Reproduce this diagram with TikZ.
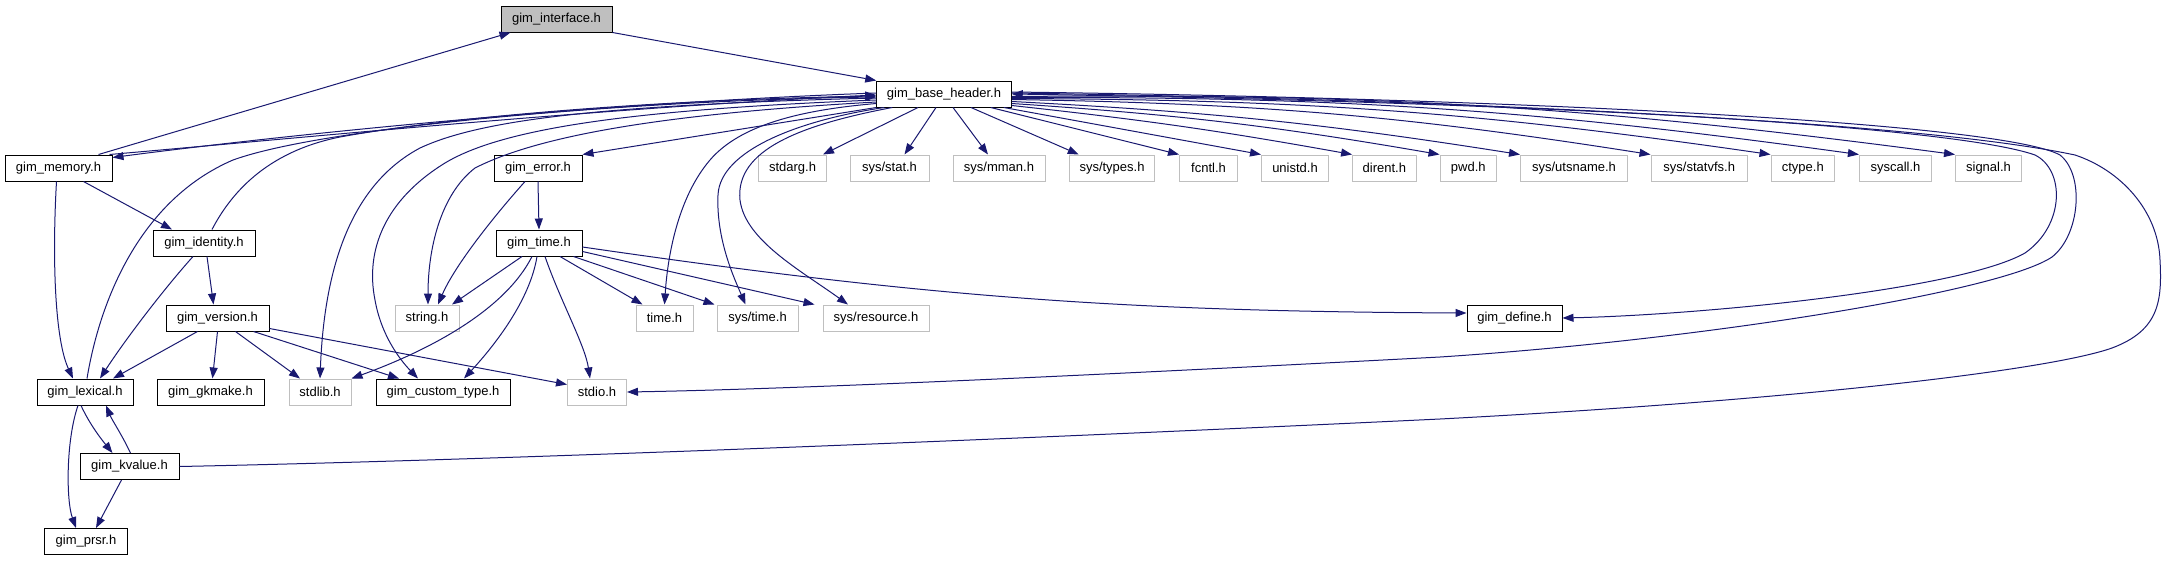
\documentclass[tikz,border=0pt]{standalone}
\usepackage{fontspec}
\setmainfont{Liberation Sans}
\usepackage{tikz}
\usetikzlibrary{arrows.meta}
\definecolor{edgeblue}{RGB}{25, 25, 112}
\definecolor{sysgray}{RGB}{191, 191, 191}
\definecolor{rootfill}{RGB}{191, 191, 191}

\begin{document}
\begin{tikzpicture}[x=1pt, y=1pt, every node/.style={font=\fontsize{13}{15}\selectfont}]
    \tikzstyle{hdr} = [draw=black, fill=white, rectangle, minimum height=26pt, inner sep=0pt, line width=1pt]
    \tikzstyle{sys} = [hdr, draw=sysgray]
    \tikzstyle{root} = [hdr, fill=rootfill]
    \tikzstyle{inc} = [draw=edgeblue, line width=1pt, -{Triangle[length=11pt, width=8pt]}]

    \useasboundingbox (0,0) rectangle (2165,-560);

    % Nodes
    \node (iface) [root, minimum width=111pt] at (556.5,-19) {gim\_interface.h};
    \node (bh) [hdr, minimum width=134.5pt] at (944,-94) {gim\_base\_header.h};
    \node (mem) [hdr, minimum width=107pt] at (58.5,-168) {gim\_memory.h};
    \node (err) [hdr, minimum width=88pt] at (538,-168) {gim\_error.h};
    \node (idn) [hdr, minimum width=102pt] at (204,-243) {gim\_identity.h};
    \node (gtime) [hdr, minimum width=86pt] at (539,-243) {gim\_time.h};
    \node (ver) [hdr, minimum width=103pt] at (217.5,-318) {gim\_version.h};
    \node (strh) [sys, minimum width=64pt] at (427,-318) {string.h};
    \node (timeh) [sys, minimum width=57pt] at (664.5,-318) {time.h};
    \node (systime) [sys, minimum width=81pt] at (757.5,-318) {sys/time.h};
    \node (sysres) [sys, minimum width=106pt] at (876,-318) {sys/resource.h};
    \node (def) [hdr, minimum width=95pt] at (1514.5,-318) {gim\_define.h};
    \node (lex) [hdr, minimum width=96pt] at (85,-392) {gim\_lexical.h};
    \node (gk) [hdr, minimum width=107pt] at (210.5,-392) {gim\_gkmake.h};
    \node (stdlibh) [sys, minimum width=62pt] at (320,-392) {stdlib.h};
    \node (ctt) [hdr, minimum width=134pt] at (443,-392) {gim\_custom\_type.h};
    \node (stdioh) [sys, minimum width=59pt] at (597,-392) {stdio.h};
    \node (kv) [hdr, minimum width=99pt] at (129.5,-466.5) {gim\_kvalue.h};
    \node (prsr) [hdr, minimum width=82.5pt] at (86,-541.5) {gim\_prsr.h};
    \node (stdarg) [sys, minimum width=68pt] at (792.5,-168) {stdarg.h};
    \node (sysstat) [sys, minimum width=79pt] at (889.5,-168) {sys/stat.h};
    \node (sysmman) [sys, minimum width=92pt] at (999,-168) {sys/mman.h};
    \node (systypes) [sys, minimum width=85.5pt] at (1112,-168) {sys/types.h};
    \node (fcntl) [sys, minimum width=58pt] at (1208.5,-168) {fcntl.h};
    \node (unistd) [sys, minimum width=67pt] at (1295,-168) {unistd.h};
    \node (dirent) [sys, minimum width=63.4pt] at (1384.3,-168) {dirent.h};
    \node (pwd) [sys, minimum width=56.6pt] at (1468.3,-168) {pwd.h};
    \node (utsname) [sys, minimum width=107pt] at (1574,-168) {sys/utsname.h};
    \node (statvfs) [sys, minimum width=96.4pt] at (1699.2,-168) {sys/statvfs.h};
    \node (ctype) [sys, minimum width=63.6pt] at (1802.8,-168) {ctype.h};
    \node (syscall) [sys, minimum width=72.2pt] at (1895.5,-168) {syscall.h};
    \node (signal) [sys, minimum width=66pt] at (1988.5,-168) {signal.h};

    % Arrows
    \draw [inc] (iface.south east) -- (bh.north west);

    \draw [inc] ([xshift=40]mem.north) -- ([xshift=-46]iface.south);
    \draw [inc] ([xshift=-3]mem.north east) .. controls (300,-138) and (600,-108) .. ([yshift=-1]bh.west);
    \draw [inc] ([xshift=25]mem.south) -- ([xshift=-32]idn.north);
    \draw [inc] ([xshift=-2]mem.south) .. controls (52,-260) and (55,-340) .. ([xshift=-12]lex.north);

    \draw [inc] ([yshift=1]bh.west) .. controls (600,-103) and (300,-133) .. ([yshift=-3]mem.north east);

    \draw [inc] ([xshift=8]idn.north) .. controls (230,-195) and (265,-152) .. (340,-137) .. controls (450,-117) and (650,-100) .. ([yshift=-2]bh.west);
    \draw [inc] ([xshift=3]idn.south) -- ([xshift=-4]ver.north);
    \draw [inc] ([xshift=-11]idn.south) .. controls (163,-290) and (125,-340) .. ([xshift=15]lex.north);

    \draw [inc] ([xshift=-20]ver.south) -- ([xshift=28]lex.north);
    \draw [inc] (ver.south) -- ([xshift=2]gk.north);
    \draw [inc] ([xshift=18]ver.south) -- ([xshift=-20]stdlibh.north);
    \draw [inc] ([xshift=36]ver.south) -- ([xshift=-44]ctt.north);
    \draw [inc] ([yshift=3]ver.south east) -- ([yshift=-6]stdioh.north west);

    \draw [inc] ([xshift=2]lex.north) .. controls (100,-300) and (140,-200) .. (233,-160) .. controls (330,-125) and (650,-100) .. ([yshift=-3]bh.west);
    \draw [inc] ([xshift=-4]lex.south) .. controls (90,-425) and (102,-440) .. ([xshift=-17]kv.north);
    \draw [inc] ([xshift=-7]lex.south) .. controls (66,-440) and (66,-500) .. ([xshift=-10]prsr.north);

    \draw [inc] ([xshift=1]kv.north) .. controls (122,-435) and (112,-420) .. ([xshift=21]lex.south);
    \draw [inc] ([xshift=-8]kv.south) -- ([xshift=10]prsr.north);
    \draw [inc] (kv.east) .. controls (500,-460) and (1000,-440) .. (1440,-419) .. controls (1800,-400) and (2050,-370) .. (2112,-348) .. controls (2160,-330) and (2162,-300) .. (2160,-260) .. controls (2158,-210) and (2120,-170) .. (2075,-155) .. controls (1900,-118) and (1400,-100) .. (bh.east);

    \draw [inc] (bh.south west) -- (err.north east);
    \draw [inc] ([yshift=-4]bh.west) .. controls (600,-105) and (480,-120) .. (420,-148) .. controls (360,-180) and (325,-250) .. (stdlibh.north);
    \draw [inc] ([yshift=-6]bh.west) .. controls (620,-110) and (500,-130) .. (445,-163) .. controls (385,-200) and (365,-250) .. (375,-300) .. controls (382,-340) and (405,-365) .. ([xshift=-25]ctt.north);
    \draw [inc] ([yshift=-8]bh.west) .. controls (640,-115) and (530,-140) .. (475,-168) .. controls (440,-195) and (428,-250) .. ([xshift=1]strh.north);
    \draw [inc] ([yshift=4]bh.south west) .. controls (800,-110) and (740,-125) .. (710,-160) .. controls (680,-195) and (668,-250) .. (timeh.north);
    \draw [inc] ([xshift=8]bh.south west) .. controls (800,-120) and (720,-150) .. (718,-195) .. controls (716,-240) and (735,-280) .. ([xshift=-12]systime.north);
    \draw [inc] ([xshift=16]bh.south west) .. controls (800,-125) and (735,-150) .. (740,-200) .. controls (745,-240) and (800,-270) .. ([xshift=-28]sysres.north);
    \draw [inc] ([yshift=1]bh.east) .. controls (1500,-100) and (1950,-125) .. (2035,-155) .. controls (2065,-170) and (2065,-225) .. (2025,-253) .. controls (1960,-290) and (1700,-315) .. (def.east);
    \draw [inc] ([yshift=2]bh.east) .. controls (1500,-98) and (2000,-122) .. (2060,-155) .. controls (2085,-175) and (2080,-235) .. (2052,-257) .. controls (2000,-292) and (1700,-340) .. (1440,-357) .. controls (1100,-375) and (800,-389) .. (stdioh.east);

    \draw [inc] ([xshift=-26]bh.south) -- ([xshift=-4]stdarg.north east);
    \draw [inc] ([xshift=-8]bh.south) -- ([xshift=15]sysstat.north);
    \draw [inc] ([xshift=9]bh.south) -- ([xshift=-11]sysmman.north);
    \draw [inc] ([xshift=27]bh.south) -- ([xshift=10]systypes.north west);
    \draw [inc] ([xshift=-21]bh.south east) -- (fcntl.north west);
    \draw [inc] ([xshift=-8]bh.south east) -- (unistd.north west);
    \draw [inc] ([yshift=2]bh.south east) to[bend left=2] (dirent.north west);
    \draw [inc] ([yshift=4]bh.south east) to[bend left=3] (pwd.north west);
    \draw [inc] ([yshift=6]bh.south east) to[bend left=3] (utsname.north west);
    \draw [inc] ([yshift=8]bh.south east) to[bend left=4] (statvfs.north west);
    \draw [inc] ([yshift=9]bh.south east) to[bend left=4] (ctype.north west);
    \draw [inc] ([yshift=10]bh.south east) to[bend left=4] (syscall.north west);
    \draw [inc] ([yshift=11]bh.south east) to[bend left=4] (signal.north west);

    \draw [inc] (err.south) -- (gtime.north);
    \draw [inc] ([xshift=-13]err.south) .. controls (495,-215) and (455,-265) .. ([xshift=11]strh.north);

    \draw [inc] ([xshift=-17]gtime.south) -- ([xshift=25]strh.north);
    \draw [inc] ([xshift=-7]gtime.south) .. controls (505,-310) and (430,-350) .. (stdlibh.north east);
    \draw [inc] ([xshift=-2]gtime.south) .. controls (530,-300) and (495,-345) .. ([xshift=21]ctt.north);
    \draw [inc] ([xshift=6]gtime.south) .. controls (560,-300) and (585,-345) .. ([xshift=-7]stdioh.north);
    \draw [inc] ([xshift=21]gtime.south) -- ([xshift=-22]timeh.north);
    \draw [inc] ([xshift=-9]gtime.south east) -- ([xshift=-2]systime.north west);
    \draw [inc] ([yshift=5]gtime.south east) -- ([xshift=-8]sysres.north west);
    \draw [inc] ([yshift=-4]gtime.east) to[bend right=4] ([yshift=5]def.west);
\end{tikzpicture}
\end{document}
